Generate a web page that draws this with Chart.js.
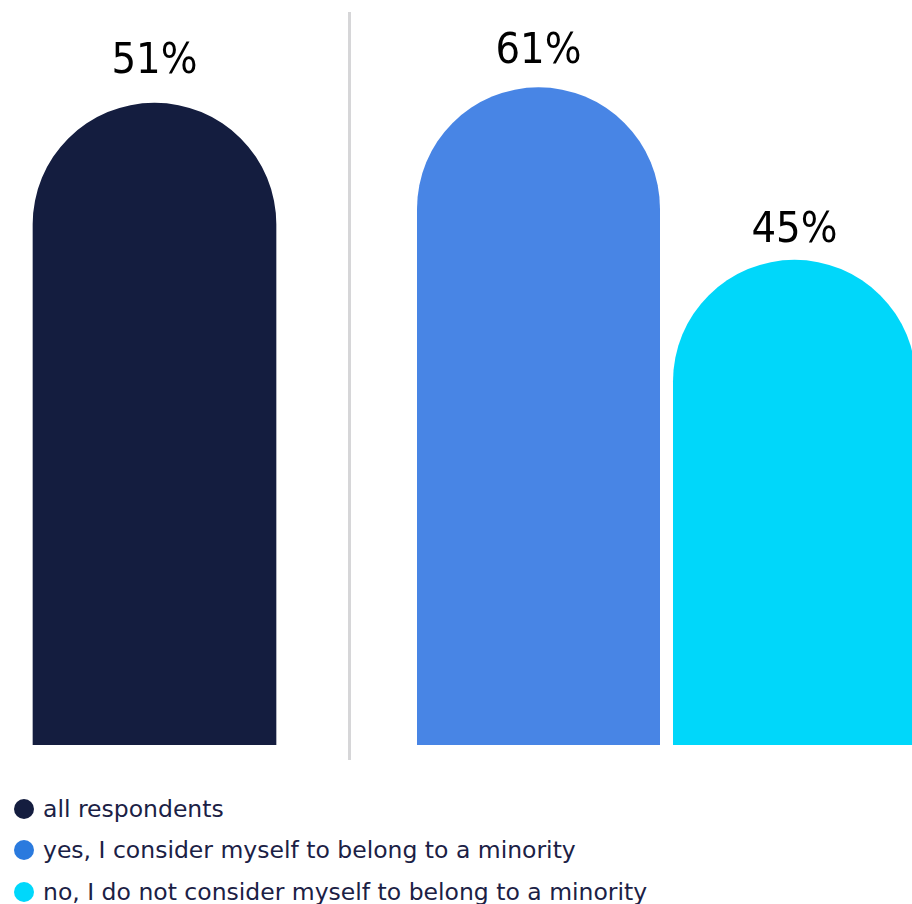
<!DOCTYPE html>
<html lang="en">
<head>
    <meta charset="UTF-8">
    <title>Minority respondents</title>
    <script src="https://cdn.jsdelivr.net/npm/chart.js"></script>
    <style>
        body { margin: 0; overflow: hidden; background: #fff; }
        #wrap { position: relative; width: 912px; height: 904px; overflow: hidden; }
        #leftBox { position: absolute; left: 0; top: 0; width: 309px; height: 760px; }
        #rightBox { position: absolute; left: 351px; top: 0; width: 600px; height: 760px; }
        #divider { position: absolute; left: 348px; top: 12px; width: 3px; height: 748px; background: #d6d6d8; }
        #legend { position: absolute; left: 14px; top: 788px; font-family: "DejaVu Sans", sans-serif; font-size: 23.5px; color: #1b2145; }
        .row { display: flex; align-items: center; height: 41.5px; white-space: nowrap; }
        .dot { width: 20px; height: 20px; border-radius: 50%; margin-right: 9px; flex: none; }
    </style>
</head>
<body>
<div id="wrap">
    <div id="leftBox"><canvas id="leftChart"></canvas></div>
    <div id="divider"></div>
    <div id="rightBox"><canvas id="rightChart"></canvas></div>
    <div id="legend"></div>
</div>

<script>
    const groupLabels = [
        'all respondents',
        'yes, I consider myself to belong to a minority',
        'no, I do not consider myself to belong to a minority'
    ];
    const shares = [51, 61, 45];
    const barColors = ['#141d3f', '#4885e5', '#00d7fa'];
    const legendColors = ['#141d3f', '#2a7ade', '#00d8fb'];

    // each panel has its own value axis
    const leftMax = 59.2;
    const rightMax = 69.1;
    // distance from bar top to label baseline
    const labelGap = [30, 24, 18];

    const roundTop = { topLeft: 122, topRight: 122, bottomLeft: 0, bottomRight: 0 };

    // writes "NN%" above every bar
    const valueLabels = {
        id: 'valueLabels',
        afterDatasetsDraw(chart, args, opts) {
            const ctx = chart.ctx;
            ctx.save();
            ctx.font = '43px "DejaVu Sans Condensed", "DejaVu Sans", sans-serif';
            ctx.fillStyle = '#000';
            ctx.textAlign = 'center';
            ctx.textBaseline = 'alphabetic';
            chart.data.datasets.forEach((ds, i) => {
                const bar = chart.getDatasetMeta(i).data[0];
                const gap = labelGap[opts.offset + i];
                ctx.fillText(ds.data[0] + '%', bar.x, bar.y - gap);
            });
            ctx.restore();
        }
    };

    function panelOptions(max, padLeft, padRight, catPct, barPct, offset) {
        return {
            responsive: true,
            maintainAspectRatio: false,
            animation: false,
            layout: { padding: { left: padLeft, right: padRight, top: 0, bottom: 15 } },
            categoryPercentage: catPct,
            barPercentage: barPct,
            scales: {
                x: { display: false },
                y: { display: false, min: 0, max: max }
            },
            plugins: {
                legend: { display: false },
                tooltip: { enabled: false },
                valueLabels: { offset: offset }
            }
        };
    }

    new Chart(document.getElementById('leftChart'), {
        type: 'bar',
        data: {
            labels: ['all'],
            datasets: [{
                label: groupLabels[0],
                data: [shares[0]],
                backgroundColor: barColors[0],
                borderRadius: roundTop,
                borderSkipped: false,
                barThickness: 243
            }]
        },
        options: panelOptions(leftMax, 0, 0, 1, 1, 0),
        plugins: [valueLabels]
    });

    new Chart(document.getElementById('rightChart'), {
        type: 'bar',
        data: {
            labels: ['minority'],
            datasets: [1, 2].map(i => ({
                label: groupLabels[i],
                data: [shares[i]],
                backgroundColor: barColors[i],
                borderRadius: roundTop,
                borderSkipped: false
            }))
        },
        options: panelOptions(rightMax, 59.5, 28.5, 1, 243 / 256, 1),
        plugins: [valueLabels]
    });

    // legend under both panels
    const legend = document.getElementById('legend');
    groupLabels.forEach((text, i) => {
        const row = document.createElement('div');
        row.className = 'row';
        const dot = document.createElement('span');
        dot.className = 'dot';
        dot.style.background = legendColors[i];
        const label = document.createElement('span');
        label.textContent = text;
        row.appendChild(dot);
        row.appendChild(label);
        legend.appendChild(row);
    });
</script>
</body>
</html>
